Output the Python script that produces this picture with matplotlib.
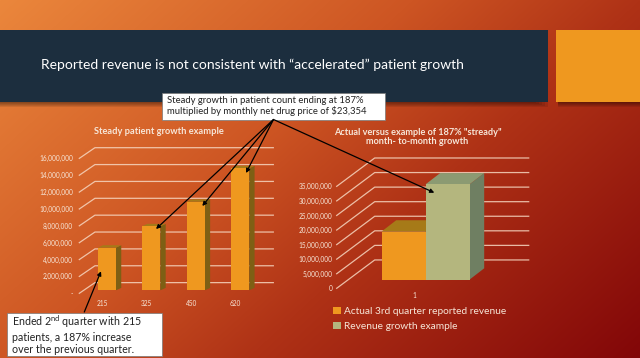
import matplotlib
matplotlib.use('Agg')
import matplotlib.pyplot as plt
from matplotlib.patches import Rectangle
import numpy as np

plt.rcParams['font.family'] = ['Lato', 'DejaVu Sans']
plt.rcParams['mathtext.fontset'] = 'custom'
plt.rcParams['mathtext.rm'] = 'Lato'
plt.rcParams['mathtext.default'] = 'regular'

# left chart
patient_labels = ['215', '325', '450', '620']
patient_revenue = [5060000, 7600000, 10500000, 14480000]
left_ticks = [0, 2000000, 4000000, 6000000, 8000000, 10000000, 12000000, 14000000, 16000000]

# right chart
revenue_names = ['Actual 3rd quarter reported revenue', 'Revenue growth example']
revenue_values = [16500000, 32700000]
right_ticks = [0, 5000000, 10000000, 15000000, 20000000, 25000000, 30000000, 35000000]

ORANGE = '#EF981F'
GREEN = '#B4B67E'
W, H = 640, 358


def px_axes(fig, x0, x1, y_bottom, y_top):
    # axes given in picture pixels
    return fig.add_axes([x0 / W, 1 - y_bottom / H, (x1 - x0) / W, (y_bottom - y_top) / H],
                        facecolor='none', zorder=2)


def bar_3d(ax, x, width, floor, value, dx, dy, front, side, top):
    left = x - width / 2
    right = x + width / 2
    ceil = floor + value
    ax.fill([right, right + dx, right + dx, right], [floor, floor + dy, ceil + dy, ceil], color=side, lw=0, zorder=3)
    ax.fill([left, left + dx, right + dx, right], [ceil, ceil + dy, ceil + dy, ceil], color=top, lw=0, zorder=3)
    return ax.bar(x, value, width, bottom=floor, color=front, lw=0, zorder=4)


def walls(ax, ticks, x0, x_back, x_end, dy):
    for t in ticks:
        ax.plot([x0, x_back, x_end], [t, t + dy, t + dy], color='#F6D6C0', lw=0.9, alpha=0.85, zorder=1, clip_on=False)


def fmt_ticks(ax, ticks, labels, pad):
    ax.set_yticks(ticks)
    ax.set_yticklabels(labels, fontsize=4.7, color='#F7E6D8')
    ax.tick_params(axis='y', length=0, pad=pad)
    for s in ax.spines.values():
        s.set_visible(False)


fig = plt.figure(figsize=(6.4, 3.58), dpi=100)

# background
bg = fig.add_axes([0, 0, 1, 1], zorder=0)
xx, yy = np.meshgrid(np.linspace(0, 1, W), np.linspace(0, 1, H))
t = 0.62 * xx + 0.38 * yy
stops = [0, 0.4, 0.62, 1]
rgb = np.dstack([np.interp(t, stops, [235, 205, 175, 130]),
                 np.interp(t, stops, [135, 85, 50, 6]),
                 np.interp(t, stops, [60, 35, 22, 8])]) / 255
bg.imshow(rgb, extent=[0, W, H, 0], aspect='auto')
bg.set_xlim(0, W)
bg.set_ylim(H, 0)
bg.axis('off')

# header blocks with soft shadow
for i in range(5):
    bg.add_patch(Rectangle((0, 102), 536 + i * 3, 1 + i, color='k', alpha=0.09, lw=0))
    bg.add_patch(Rectangle((558, 102), 82, 1 + i, color='k', alpha=0.09, lw=0))
bg.add_patch(Rectangle((0, 30), 548, 72, color='#1C2E3E', lw=0))
bg.add_patch(Rectangle((556, 30), 84, 72, color='#EF981F', lw=0))
bg.text(41, 65, 'Reported revenue is not consistent with \u201caccelerated\u201d patient growth',
        color='white', fontsize=10, va='center', ha='left')

# left chart
ax1 = px_axes(fig, 79.3, 273.3, 293.3, 141.5)
ax1.set_xlim(-0.619, 3.746)
ax1.set_ylim(0, 18000000)
walls(ax1, left_ticks, -0.619, -0.267, 3.746, 1265000)
for i, v in enumerate(patient_revenue):
    bar_3d(ax1, i, 0.41, 355000, v, 0.12, 285000, ORANGE, '#7E5F14', '#A67A18')
fmt_ticks(ax1, left_ticks, ['-'] + [f'{v:,}' for v in left_ticks[1:]], 4.5)
ax1.set_xticks([i - 0.1 for i in range(4)])
ax1.set_xticklabels(patient_labels, fontsize=4.7, color='#F7E6D8')
ax1.tick_params(axis='x', length=0, pad=4.5)
bg.text(158.5, 131.7, 'Steady patient growth example', color='#F7E6D8', fontsize=6.7,
        fontweight='bold', ha='center', va='center')

# right chart
ax2 = px_axes(fig, 336.7, 528.7, 288.3, 157.2)
ax2.set_xlim(336.7, 528.7)
ax2.set_ylim(0, 45000000)
walls(ax2, right_ticks, 336.7, 374.7, 528.7, 9730000)
bars = []
colors = [(ORANGE, '#7E5F14', '#A67A18'), (GREEN, '#6F7F62', '#8C9A72')]
for x, v, c in zip([403.5, 447.5], revenue_values, colors):
    bars.append(bar_3d(ax2, x, 44, 2970000, v, 14.7, 3890000, *c))
fmt_ticks(ax2, right_ticks, [f'{v:,}' for v in right_ticks], 3.2)
ax2.set_xticks([414.3])
ax2.set_xticklabels(['1'], fontsize=4.7, color='#F7E6D8')
ax2.tick_params(axis='x', length=0, pad=3)
ax2.legend(bars, revenue_names, loc='upper left', bbox_to_anchor=(333 / W, 1 - 307 / H),
           bbox_transform=fig.transFigure, frameon=False, fontsize=7.3, labelcolor='#F7E6D8',
           handlelength=0.75, handleheight=0.75, handletextpad=0.3, labelspacing=0.55,
           borderpad=0, borderaxespad=0)
bg.text(417.5, 137, 'Actual versus example of 187% "stready"\nmonth- to-month growth', color='#F7E6D8',
        fontsize=6.6, fontweight='bold', ha='center', va='center', linespacing=1.1)

# callouts over everything
top = fig.add_axes([0, 0, 1, 1], facecolor='none', zorder=5)
top.set_xlim(0, W)
top.set_ylim(H, 0)
top.axis('off')
top.add_patch(Rectangle((162, 92.5), 223, 27, fc='white', ec='#777777', lw=0.5))
top.text(167, 106, 'Steady growth in patient count ending at 187%\nmultiplied by monthly net drug price of $23,354',
         fontsize=6.8, color='#222222', va='center', ha='left', linespacing=1.2)
top.add_patch(Rectangle((7, 313), 155, 43, fc='white', ec='#777777', lw=0.5))
top.text(12, 334.5, 'Ended 2$^{nd}$ quarter with 215\npatients, a 187% increase\nover the previous quarter.',
         fontsize=7.7, color='#222222', va='center', ha='left', linespacing=1.15)
for end in [(156, 229), (202.3, 206), (246, 173), (434.3, 192.7)]:
    top.annotate('', xy=end, xytext=(273.5, 119.5),
                 arrowprops=dict(arrowstyle='-|>', color='black', lw=0.9, mutation_scale=6, shrinkA=0, shrinkB=0))
top.annotate('', xy=(101, 271.3), xytext=(84.3, 312),
             arrowprops=dict(arrowstyle='-|>', color='black', lw=0.9, mutation_scale=6, shrinkA=0, shrinkB=0))

fig.savefig('out.png', dpi=100)
